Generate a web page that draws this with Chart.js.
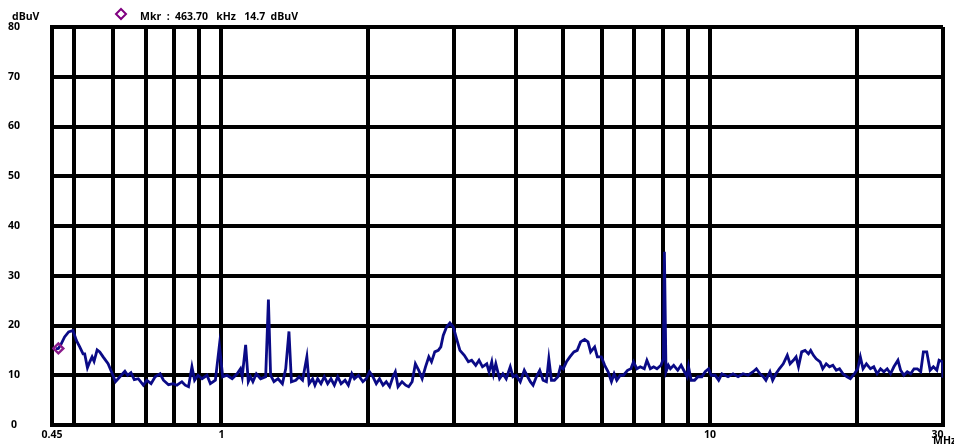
<!DOCTYPE html>
<html>
<head>
<meta charset="utf-8">
<script src="https://cdn.jsdelivr.net/npm/chart.js@4/dist/chart.umd.min.js"></script>
<style>
html,body{margin:0;padding:0;background:#fff;}
#wrap{width:954px;height:445px;position:relative;}
</style>
</head>
<body>
<div id="wrap"><canvas id="c" width="954" height="445"></canvas></div>
<script>
const freqMHz = [0.458,0.4637,0.470,0.4775,0.4867,0.4967,0.5048,0.5128,0.5209,0.525,0.5318,0.5377,0.5436,0.5487,0.5567,0.5636,0.5726,0.5862,0.5938,0.6071,0.6197,0.6345,0.6427,0.6528,0.6632,0.6759,0.6922,0.7035,0.7178,0.7317,0.7491,0.7610,0.7793,0.7967,0.8107,0.8300,0.8432,0.8564,0.8703,0.8813,0.8956,0.9127,0.9345,0.9493,0.9720,0.9906,1.006,1.027,1.052,1.077,1.094,1.103,1.121,1.135,1.147,1.160,1.179,1.203,1.232,1.248,1.261,1.281,1.306,1.333,1.354,1.375,1.391,1.420,1.442,1.466,1.496,1.512,1.537,1.554,1.574,1.599,1.624,1.650,1.676,1.703,1.730,1.758,1.791,1.819,1.849,1.872,1.908,1.948,1.979,2.010,2.042,2.075,2.107,2.142,2.175,2.210,2.245,2.270,2.299,2.343,2.383,2.417,2.457,2.495,2.535,2.576,2.617,2.658,2.692,2.734,2.779,2.813,2.845,2.890,2.936,2.983,3.030,3.078,3.142,3.203,3.253,3.316,3.368,3.423,3.493,3.531,3.576,3.606,3.645,3.710,3.769,3.828,3.902,3.952,4.014,4.091,4.169,4.236,4.289,4.345,4.413,4.484,4.555,4.627,4.680,4.738,4.806,4.884,4.943,5.007,5.086,5.168,5.267,5.350,5.435,5.539,5.629,5.699,5.808,5.882,5.995,6.090,6.189,6.287,6.367,6.447,6.552,6.653,6.782,6.889,6.977,7.087,7.202,7.339,7.430,7.551,7.670,7.791,7.940,8.030,8.069,8.130,8.222,8.300,8.431,8.593,8.730,8.871,8.981,9.041,9.153,9.301,9.448,9.627,9.779,9.938,10.06,10.25,10.42,10.58,10.89,11.15,11.42,11.69,11.97,12.26,12.45,12.66,12.86,13.02,13.27,13.44,13.65,13.87,14.13,14.40,14.59,14.82,15.01,15.18,15.41,15.66,15.91,16.08,16.29,16.50,16.81,17.02,17.30,17.57,17.85,18.14,18.42,18.72,19.08,19.39,19.76,20.07,20.32,20.58,20.91,21.31,21.65,21.99,22.35,22.70,23.06,23.43,23.80,24.26,24.57,24.95,25.35,25.76,26.17,26.58,27.01,27.35,27.79,28.23,28.67,29.14,29.45,29.92,30.0];
const levelDbuV = [15.3,15.4,16.3,17.7,18.7,19.0,17.0,15.7,14.3,14.3,11.5,12.7,13.7,12.8,15.1,14.7,13.7,12.3,11.0,8.7,9.7,10.8,10.0,10.5,9.1,9.3,8.0,9.0,8.3,9.7,10.3,9.0,8.1,8.3,8.0,8.7,8.0,7.7,11.7,9.0,10.0,9.3,10.0,8.3,9.0,16.0,9.7,10.0,9.3,10.3,11.3,9.7,16.1,8.7,9.7,8.7,10.3,9.3,9.7,25.2,10.0,8.7,9.3,8.3,11.3,18.8,8.7,9.0,9.7,9.0,13.7,8.3,9.3,8.0,9.3,8.3,9.7,8.3,9.3,8.0,9.7,8.3,9.0,8.0,10.3,9.3,10.0,8.7,9.3,10.7,9.7,8.3,9.3,8.0,8.7,7.7,9.7,10.7,7.7,8.7,8.0,7.7,8.7,12.3,11.0,9.3,11.7,13.7,12.7,14.7,15.0,15.7,18.0,19.7,20.5,19.7,17.3,15.0,14.0,12.7,13.0,12.0,13.0,11.7,12.3,10.7,12.7,10.3,12.3,9.3,10.3,9.3,11.7,9.7,10.0,8.7,11.0,9.7,8.7,8.0,9.7,11.0,9.0,8.7,13.3,9.0,9.0,9.7,11.7,11.3,12.7,13.7,14.7,15.0,16.7,17.2,16.7,14.7,15.7,13.7,13.7,12.0,10.7,8.7,10.3,9.0,10.0,10.0,11.0,11.3,12.7,11.3,11.7,11.3,13.0,11.3,11.7,11.3,12.0,13.3,34.8,10.7,12.0,11.3,12.0,11.0,12.0,10.7,9.7,11.7,9.0,9.0,9.7,9.7,10.7,11.3,10.0,10.0,9.0,10.3,9.7,10.3,9.7,10.3,10.0,10.7,11.3,10.3,9.7,9.0,10.7,9.0,10.3,11.3,12.3,14.0,12.3,13.0,13.7,11.7,14.7,15.0,14.3,15.0,14.0,13.3,12.7,11.3,12.3,11.7,12.0,11.0,11.3,10.3,9.7,9.3,10.3,11.3,13.7,11.3,12.3,11.3,11.7,10.3,11.3,10.7,11.3,10.3,11.7,13.0,11.0,10.0,10.7,10.3,11.3,11.3,10.7,14.7,14.7,11.0,11.7,11.0,13.0,12.7,9.5];
const markerFreqMHz = [0.4637];
const markerLevelDbuV = [15.4];
const markerLabel = "Mkr  :  463.70   kHz   14.7  dBuV";
const yTicks = [0,10,20,30,40,50,60,70,80];
const xGridTicks = [0.45,0.5,0.6,0.7,0.8,0.9,1,2,3,4,5,6,7,8,9,10,20,30];
const xLabelTicks = {0.45:"0.45",1:"1",10:"10",30:"30    "};
const yUnit = "dBuV";
const xUnit = "MHz";

const FONT = "'Open Sans', 'DejaVu Sans', sans-serif";
const tracePts = freqMHz.map((f,i)=>({x:f,y:levelDbuV[i]}));
const markerPts = markerFreqMHz.map((f,i)=>({x:f,y:markerLevelDbuV[i]}));

const textPlugin = {
  id:'extraText',
  afterDraw(chart){
    const ctx = chart.ctx;
    ctx.save();
    ctx.fillStyle = '#000';
    ctx.font = "bold 10.5px " + FONT;
    ctx.textAlign = 'left';
    ctx.textBaseline = 'middle';
    ctx.fillText(yUnit, 12, 17);
    ctx.textBaseline = 'top';
    ctx.fillText(xUnit, 933, 436);
    // marker legend
    ctx.strokeStyle = '#800080';
    ctx.lineWidth = 2;
    ctx.beginPath();
    ctx.moveTo(121, 9); ctx.lineTo(126, 14); ctx.lineTo(121, 19); ctx.lineTo(116, 14); ctx.closePath();
    ctx.stroke();
    ctx.fillStyle = '#000';
    ctx.textBaseline = 'middle';
    ctx.fillText(markerLabel, 140, 17);
    ctx.restore();
  }
};

new Chart(document.getElementById('c'), {
  type:'line',
  data:{
    datasets:[
      {data:tracePts, borderColor:'#0a0a86', borderWidth:2.8, pointRadius:0, tension:0, fill:false, order:2},
      {type:'scatter', data:markerPts, pointStyle:'rectRot', pointRadius:5, borderColor:'#8a1a8a', borderWidth:2.4, backgroundColor:'rgba(255,255,255,0)', order:1}
    ]
  },
  options:{
    responsive:false,
    animation:false,
    events:[],
    layout:{autoPadding:false, padding:{top:27,right:11,left:0,bottom:0}},
    plugins:{legend:{display:false}, tooltip:{enabled:false}},
    scales:{
      x:{
        type:'logarithmic', min:0.45, max:30,
        afterBuildTicks(s){ s.ticks = xGridTicks.map(v=>({value:v})); },
        afterFit(s){ s.height = 20; s.paddingLeft = 0; s.paddingRight = 0; },
        grid:{color:'#000', lineWidth:4, drawTicks:false},
        border:{color:'#000', width:4},
        ticks:{autoSkip:false, maxRotation:0, padding:4, color:'#000',
          font:{family:FONT, size:10.5, weight:'bold'},
          callback(v){ return xLabelTicks[v] !== undefined ? xLabelTicks[v] : ''; }}
      },
      y:{
        min:0, max:80,
        afterBuildTicks(s){ s.ticks = yTicks.map(v=>({value:v})); },
        afterFit(s){ s.width = 52; s.paddingTop = 0; s.paddingBottom = 0; },
        grid:{color:'#000', lineWidth:4, drawTicks:false},
        border:{color:'#000', width:4},
        ticks:{padding:32, crossAlign:'center', color:'#000', font:{family:FONT, size:10.5, weight:'bold'}}
      }
    }
  },
  plugins:[textPlugin]
});
</script>
</body>
</html>
